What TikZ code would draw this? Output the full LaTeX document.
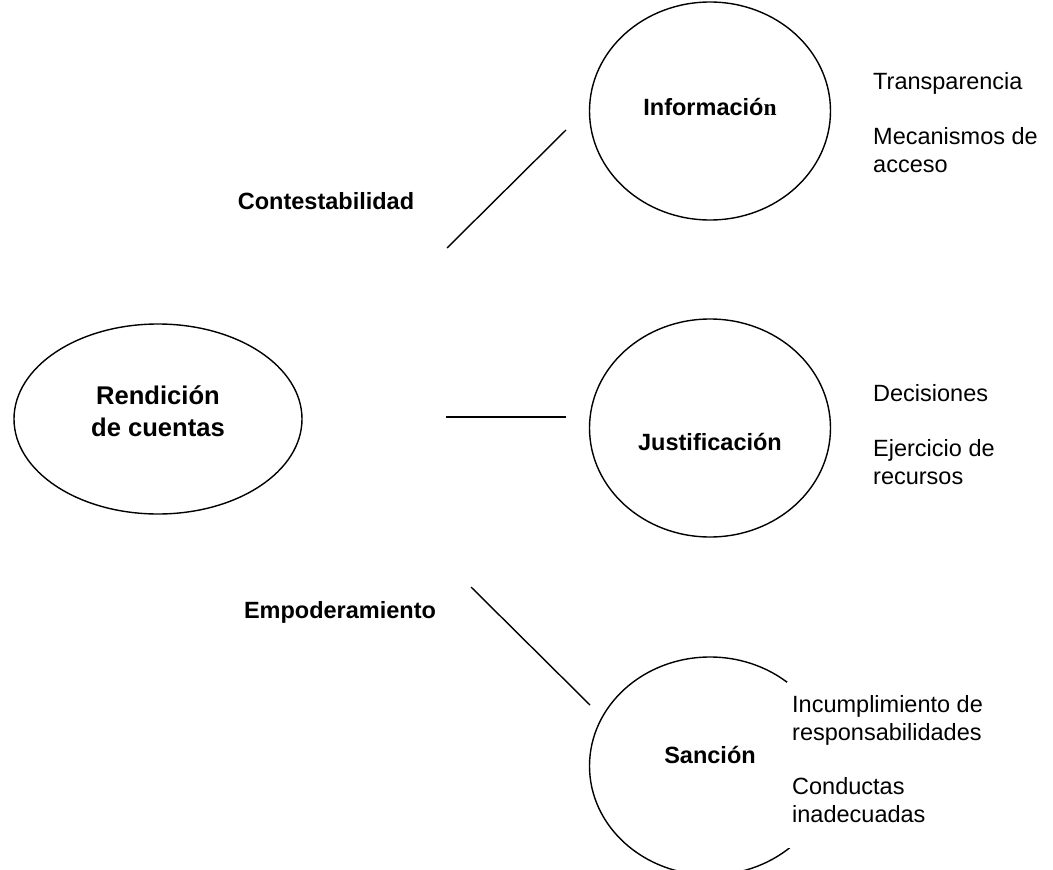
\documentclass[tikz,border=0pt]{standalone}
\usepackage{fontspec}
\setmainfont{Liberation Sans}
\newfontfamily\timesfamily{Liberation Serif}
\usetikzlibrary{shapes.geometric}
\begin{document}
\begin{tikzpicture}[x=1pt, y=-1pt,
  bubble/.style={draw=black, ellipse, line width=1.4pt, inner sep=0pt, outer sep=0pt},
  title/.style={font=\fontsize{23.5}{28}\selectfont\bfseries, inner sep=0pt},
  item/.style={font=\fontsize{23.5}{28}\selectfont, align=left, anchor=west, inner sep=0pt},
  link/.style={line width=1.4pt}]
  \useasboundingbox (0,0) rectangle (1053,870);
  \clip (0,0) rectangle (1053,870);

  % central concept
  \node[bubble, minimum width=288pt, minimum height=190pt] (rc) at (158,419) {};
  \node[font=\fontsize{25.6}{32.5}\selectfont\bfseries, align=center, inner sep=0pt]
    (rctext) at (158,411) {Rendición\\de cuentas};

  % three dimensions
  \node[bubble, minimum width=241pt, minimum height=218pt] (info) at (710,111) {};
  \node[title] (infotext) at (710,107) {Informació{\timesfamily\bfseries n}};

  \node[bubble, minimum width=241pt, minimum height=218pt] (just) at (710,428) {};
  \node[title] (justtext) at (710,442) {Justificación};

  \node[bubble, minimum width=241pt, minimum height=218pt] (sanc) at (710,766) {};
  \node[fill=white, inner sep=0pt, minimum width=215pt, minimum height=166pt,
    anchor=north west] (sancbox) at (787,682) {};
  \node[title] (sanctext) at (710,755) {Sanción};

  % connector labels
  \node[title] (contest) at (326,201) {Contestabilidad};
  \node[title] (empod) at (340,612) {Empoderamiento};

  % connectors
  \coordinate (l1a) at (447,248); \coordinate (l1b) at (566,130);
  \coordinate (l2a) at (446,417); \coordinate (l2b) at (566,417);
  \coordinate (l3a) at (471,587); \coordinate (l3b) at (590,705);
  \draw[link] (l1a) -- (l1b);
  \draw[link] (l2a) -- (l2b);
  \draw[link] (l3a) -- (l3b);

  % descriptions
  \node[item] (i1) at (873,83) {Transparencia};
  \node[item] (i2) at (873,150) {Mecanismos de\\acceso};
  \node[item] (j1) at (873,393) {Decisiones};
  \node[item] (j2) at (873,462) {Ejercicio de\\recursos};
  \node[item] (s1) at (792,720) {Incumplimiento de\\responsabilidades};
  \node[item] (s2) at (792,800) {Conductas\\inadecuadas};
\end{tikzpicture}
\end{document}
